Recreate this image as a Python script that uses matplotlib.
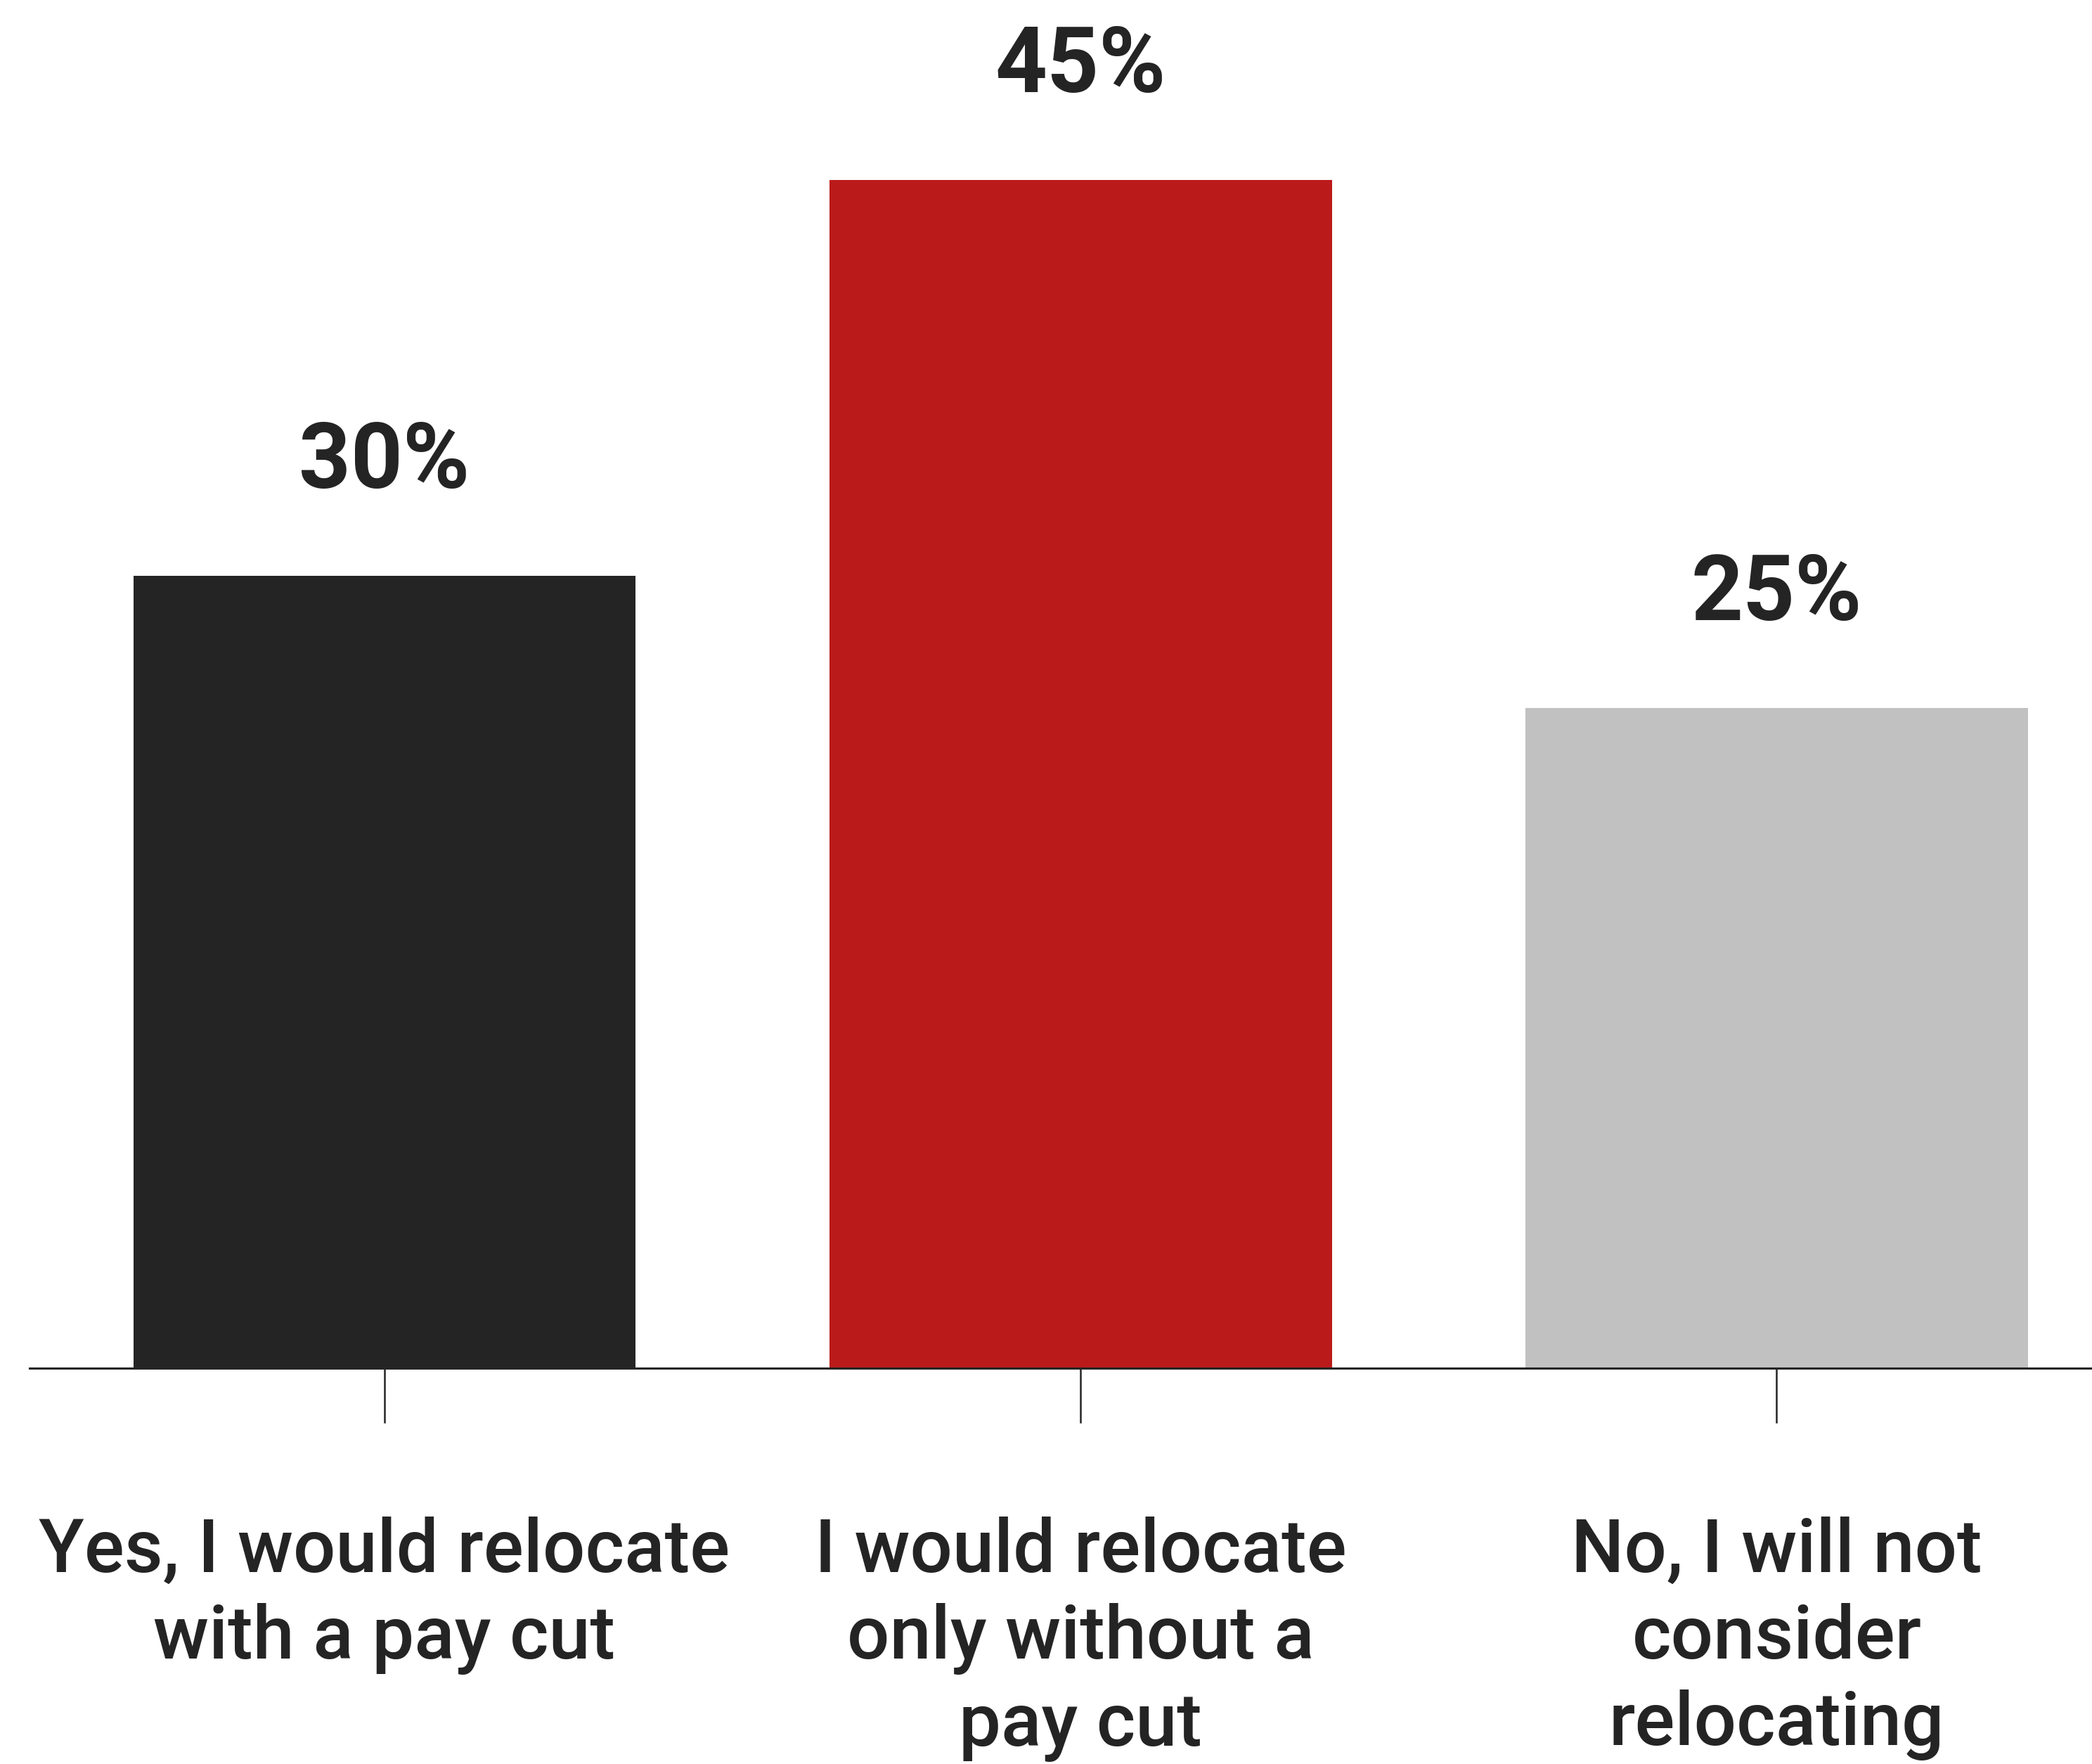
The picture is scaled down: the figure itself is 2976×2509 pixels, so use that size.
import matplotlib
matplotlib.use("Agg")
import matplotlib.pyplot as plt
import numpy as np

# data
categories = [
    "Yes, I would relocate\nwith a pay cut",
    "I would relocate\nonly without a\npay cut",
    "No, I will not\nconsider\nrelocating",
]
values = [30, 45, 25]
value_labels = ["30%", "45%", "25%"]
bar_colors = ["#242424", "#BA1A1A", "#C1C1C1"]

TEXT = "#242424"

plt.rcParams["font.family"] = ["Roboto", "DejaVu Sans"]

fig = plt.figure(figsize=(29.76, 25.09), dpi=100)
ax = fig.add_axes([0.0141, 0.2244, 0.9859, 0.7756])

x = np.arange(len(categories))
ax.bar(x, values, width=0.722, color=bar_colors, zorder=2)

for xi, v, lab in zip(x, values, value_labels):
    ax.annotate(lab, (xi, v), xytext=(0, 90), textcoords="offset points",
                ha="center", va="baseline", fontsize=93, fontweight="bold",
                color=TEXT)

ax.set_xlim(-0.51, 2.453)
ax.set_ylim(0, 51.82)

for s in ["top", "right", "left"]:
    ax.spines[s].set_visible(False)
ax.spines["bottom"].set_linewidth(2.2)
ax.spines["bottom"].set_color(TEXT)
ax.spines["bottom"].set_zorder(3)

ax.set_yticks([])
ax.set_xticks(x)
ax.set_xticklabels(categories, fontsize=76.5, fontweight="medium", color=TEXT,
                   linespacing=1.28)
ax.tick_params(axis="x", length=56, width=1.8, color=TEXT, pad=96)

fig.savefig("out.png", dpi=100)
